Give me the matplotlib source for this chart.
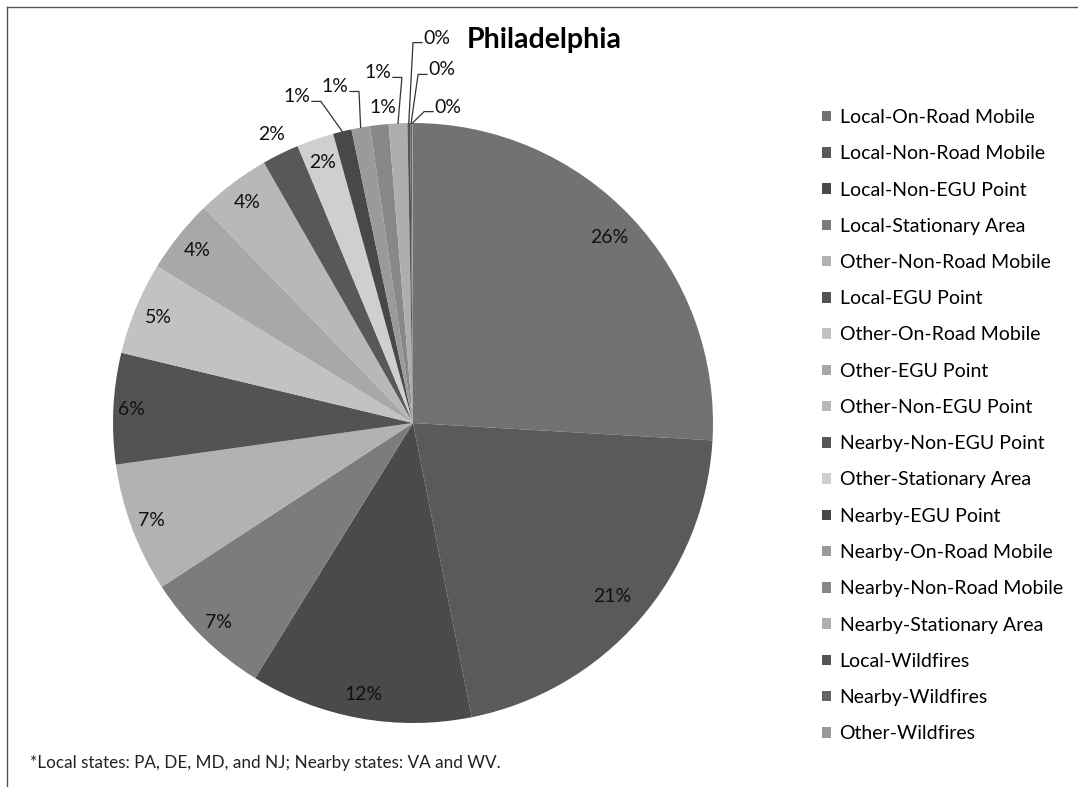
import matplotlib.pyplot as plt
from matplotlib.lines import Line2D
import numpy as np

plt.rcParams['font.family'] = ['Lato', 'DejaVu Sans']

# source categories, in pie order (clockwise from 12 o'clock)
sources = [
    "Local-On-Road Mobile", "Local-Non-Road Mobile", "Local-Non-EGU Point",
    "Local-Stationary Area", "Other-Non-Road Mobile", "Local-EGU Point",
    "Other-On-Road Mobile", "Other-EGU Point", "Other-Non-EGU Point",
    "Nearby-Non-EGU Point", "Other-Stationary Area", "Nearby-EGU Point",
    "Nearby-On-Road Mobile", "Nearby-Non-Road Mobile", "Nearby-Stationary Area",
    "Local-Wildfires", "Nearby-Wildfires", "Other-Wildfires",
]
shares = [26, 21, 12, 7, 7, 6, 5, 4, 4, 2, 2, 1, 1, 1, 1, 0.15, 0.1, 0.05]
shades = [
    "#727272", "#5a5a5a", "#4a4a4a", "#7c7c7c", "#b2b2b2", "#535353",
    "#c2c2c2", "#a8a8a8", "#b8b8b8", "#585858", "#cfcfcf", "#484848",
    "#9a9a9a", "#888888", "#aeaeae", "#555555", "#666666", "#999999",
]

# label layout: radius for the big slices, text spots for the small ones
label_r = [0.9, 0.88, 0.92, 0.93, 0.93, 0.94, 0.92, 0.92, 0.92, 1.07, 0.92]
callout_xy = [(-0.387, 1.087), (-0.26, 1.12), (-0.10, 1.053), (-0.117, 1.167),
              (0.08, 1.283), (0.097, 1.177), (0.117, 1.053)]
callout_line = [True, True, False, True, True, True, True]

W, H = 1078, 787
fig = plt.figure(figsize=(W / 100, H / 100), dpi=100)

cx, cy, r = 413, 423, 300
ax = fig.add_axes([(cx - r) / W, 1 - (cy + r) / H, 2 * r / W, 2 * r / H])
wedges, _ = ax.pie(shares, colors=shades, startangle=90, counterclock=False,
                   wedgeprops=dict(linewidth=0))
ax.set_xlim(-1, 1)
ax.set_ylim(-1, 1)
ax.set_aspect('equal')
ax.axis('off')

total = sum(shares)
pct = [f"{round(v / total * 100):.0f}%" for v in shares]

for i, w in enumerate(wedges):
    mid = np.deg2rad((w.theta1 + w.theta2) / 2)
    if i < len(label_r):
        ax.text(label_r[i] * np.cos(mid), label_r[i] * np.sin(mid), pct[i],
                ha='center', va='center', fontsize=14, color='#111111')
    else:
        tx, ty = callout_xy[i - len(label_r)]
        ax.text(tx, ty, pct[i], ha='center', va='center', fontsize=14,
                color='#111111', clip_on=False)
        if callout_line[i - len(label_r)]:
            s = 1 if tx < 0 else -1
            ly = ty - 0.015
            ax.plot([tx + s * 0.05, tx + s * 0.08, np.cos(mid)],
                    [ly, ly, np.sin(mid)], color='#333333', lw=0.9,
                    clip_on=False)

fig.text(467 / W, 1 - 40 / H, "Philadelphia", fontsize=20.5, fontweight='bold',
         ha='left', va='center')

fig.text(30 / W, 1 - 763 / H,
         "*Local states: PA, DE, MD, and NJ; Nearby states: VA and WV.",
         fontsize=12.3, ha='left', va='center', color='#222222')

ax.legend(wedges, sources, loc='upper left', bbox_to_anchor=(822 / W, 1 - 109 / H),
          bbox_transform=fig.transFigure, frameon=False, fontsize=14,
          handlelength=0.45, handleheight=0.45, handletextpad=0.45,
          labelspacing=0.99, borderpad=0, borderaxespad=0)

# thin chart border (top and left edges visible in the original)
fig.add_artist(Line2D([7 / W, 1], [1 - 7 / H, 1 - 7 / H], transform=fig.transFigure,
                      color='#555555', lw=1))
fig.add_artist(Line2D([7 / W, 7 / W], [0, 1 - 7 / H], transform=fig.transFigure,
                      color='#555555', lw=1))

fig.savefig("out.png", dpi=100)
